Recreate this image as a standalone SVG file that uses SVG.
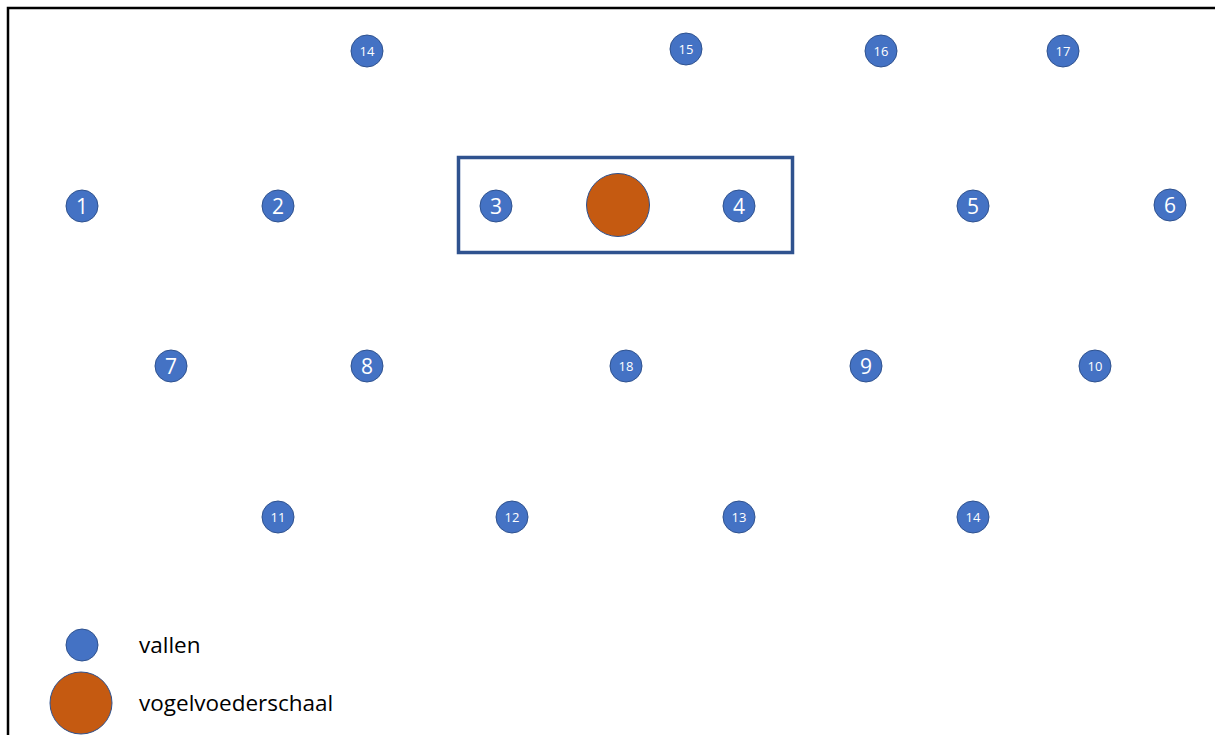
<svg xmlns="http://www.w3.org/2000/svg" width="1215" height="735" viewBox="0 0 1215 735">
<style>
.trap{fill:#4472C4;stroke:#2F528F;stroke-width:1}
.feed{fill:#C55A11;stroke:#2F528F;stroke-width:1}
.n1{font-family:"Open Sans","Liberation Sans",sans-serif;font-size:21px;fill:#fff;text-anchor:middle;dominant-baseline:central}
.n2{font-family:"Open Sans","Liberation Sans",sans-serif;font-size:13px;fill:#fff;text-anchor:middle;dominant-baseline:central}
.lbl{font-family:"Open Sans","Liberation Sans",sans-serif;font-size:22.5px;fill:#000}
</style>
<rect width="1215" height="735" fill="#fff"/>
<path d="M8,735 V8 H1215" fill="none" stroke="#000" stroke-width="2.5"/>
<rect id="zone" x="458.5" y="157.5" width="334" height="95" fill="none" stroke="#2F528F" stroke-width="3.5"/>
<g id="connectors"></g>
<g id="t14a"><circle class="trap" cx="367" cy="51" r="16"/><text class="n2" x="367" y="51">14</text></g>
<g id="t15"><circle class="trap" cx="686" cy="49" r="16"/><text class="n2" x="686" y="49">15</text></g>
<g id="t16"><circle class="trap" cx="881" cy="51" r="16"/><text class="n2" x="881" y="51">16</text></g>
<g id="t17"><circle class="trap" cx="1063" cy="51" r="16"/><text class="n2" x="1063" y="51">17</text></g>
<g id="t1"><circle class="trap" cx="82" cy="206" r="16"/><text class="n1" x="82" y="206">1</text></g>
<g id="t2"><circle class="trap" cx="278" cy="206" r="16"/><text class="n1" x="278" y="206">2</text></g>
<g id="t3"><circle class="trap" cx="496" cy="206" r="16"/><text class="n1" x="496" y="206">3</text></g>
<g id="feeder"><circle class="feed" cx="618" cy="205" r="31.5"/></g>
<g id="t4"><circle class="trap" cx="739" cy="206" r="16"/><text class="n1" x="739" y="206">4</text></g>
<g id="t5"><circle class="trap" cx="973" cy="206" r="16"/><text class="n1" x="973" y="206">5</text></g>
<g id="t6"><circle class="trap" cx="1170" cy="205" r="16"/><text class="n1" x="1170" y="205">6</text></g>
<g id="t7"><circle class="trap" cx="171" cy="366" r="16"/><text class="n1" x="171" y="366">7</text></g>
<g id="t8"><circle class="trap" cx="367" cy="366" r="16"/><text class="n1" x="367" y="366">8</text></g>
<g id="t18"><circle class="trap" cx="626" cy="366" r="16"/><text class="n2" x="626" y="366">18</text></g>
<g id="t9"><circle class="trap" cx="866" cy="366" r="16"/><text class="n1" x="866" y="366">9</text></g>
<g id="t10"><circle class="trap" cx="1095" cy="366" r="16"/><text class="n2" x="1095" y="366">10</text></g>
<g id="t11"><circle class="trap" cx="278" cy="517" r="16"/><text class="n2" x="278" y="517">11</text></g>
<g id="t12"><circle class="trap" cx="512" cy="517" r="16"/><text class="n2" x="512" y="517">12</text></g>
<g id="t13"><circle class="trap" cx="739" cy="517" r="16"/><text class="n2" x="739" y="517">13</text></g>
<g id="t14b"><circle class="trap" cx="973" cy="517" r="16"/><text class="n2" x="973" y="517">14</text></g>
<g id="legend">
<circle class="trap" cx="82" cy="645" r="16"/>
<text class="lbl" x="139" y="653">vallen</text>
<circle class="feed" cx="81" cy="703" r="31"/>
<text class="lbl" x="139" y="711">vogelvoederschaal</text>
</g>
</svg>
